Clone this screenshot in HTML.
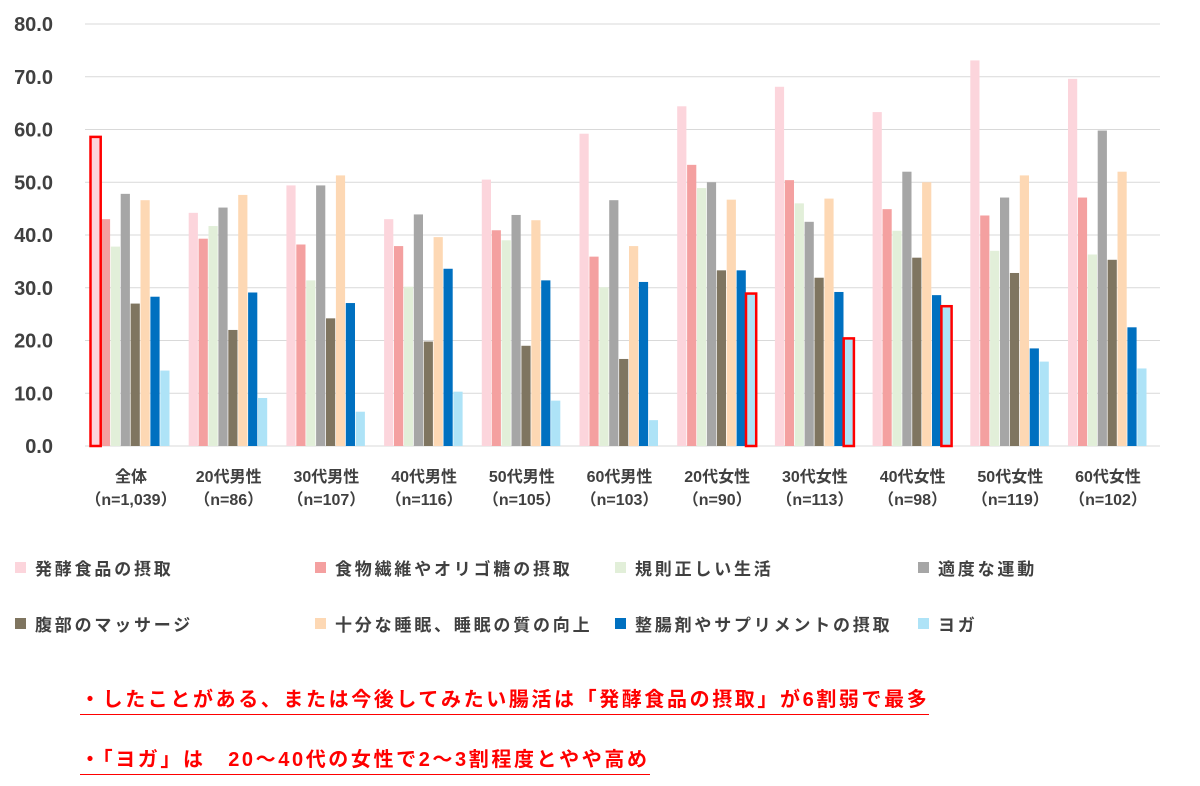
<!DOCTYPE html>
<html><head><meta charset="utf-8">
<style>
body{margin:0;width:1200px;height:786px;background:#fff;overflow:hidden;font-family:"Liberation Sans","Noto Sans CJK JP",sans-serif;}
#wrap{position:relative;width:1200px;height:786px;}
.leg{position:absolute;font-size:17px;font-weight:bold;color:#404040;display:flex;align-items:center;letter-spacing:2.8px;}
.leg i{display:inline-block;width:11px;height:11px;margin-right:9px;}
.note{position:absolute;left:80px;color:#ff0000;font-size:20px;font-weight:bold;border-bottom:1.5px solid #ff0000;padding-bottom:2px;letter-spacing:2.6px;}
</style></head><body>
<div id="wrap">
<svg id="chart" width="1200" height="530" style="position:absolute;left:0;top:0"></svg>
<div class="leg" style="left:15px;top:555px"><i style="background:#fcd5dc"></i>発酵食品の摂取</div>
<div class="leg" style="left:315px;top:555px"><i style="background:#f4a0a0"></i>食物繊維やオリゴ糖の摂取</div>
<div class="leg" style="left:615px;top:555px"><i style="background:#e2efd9"></i>規則正しい生活</div>
<div class="leg" style="left:918px;top:555px"><i style="background:#a6a6a6"></i>適度な運動</div>
<div class="leg" style="left:15px;top:611px"><i style="background:#7f7560"></i>腹部のマッサージ</div>
<div class="leg" style="left:315px;top:611px"><i style="background:#fdd8b4"></i>十分な睡眠、睡眠の質の向上</div>
<div class="leg" style="left:615px;top:611px"><i style="background:#0070c0"></i>整腸剤やサプリメントの摂取</div>
<div class="leg" style="left:918px;top:611px"><i style="background:#aee3f7"></i>ヨガ</div>
<div class="note" style="top:683px">・したことがある、または今後してみたい腸活は「発酵食品の摂取」が6割弱で最多</div>
<div class="note" style="top:743px">・「ヨガ」は　20～40代の女性で2～3割程度とやや高め</div>
</div>
<script>
const groups1=["全体","20代男性","30代男性","40代男性","50代男性","60代男性","20代女性","30代女性","40代女性","50代女性","60代女性"];
const groups2=["（n=1,039）","（n=86）","（n=107）","（n=116）","（n=105）","（n=103）","（n=90）","（n=113）","（n=98）","（n=119）","（n=102）"];
const fermented=[58.6,44.2,49.4,43.0,50.5,59.2,64.4,68.1,63.3,73.1,69.6];
const fiber=[43.0,39.3,38.2,37.9,40.9,35.9,53.3,50.4,44.9,43.7,47.1];
const regular=[37.8,41.7,31.4,30.2,39.0,30.1,48.9,46.0,40.8,37.0,36.3];
const exercise=[47.8,45.2,49.4,43.9,43.8,46.6,50.0,42.5,52.0,47.1,59.8];
const massage=[27.0,22.0,24.2,19.8,19.0,16.5,33.3,31.9,35.7,32.8,35.3];
const sleep=[46.6,47.6,51.3,39.6,42.8,37.9,46.7,46.9,50.0,51.3,52.0];
const supplement=[28.3,29.1,27.1,33.6,31.4,31.1,33.3,29.2,28.6,18.5,22.5];
const yoga=[14.3,9.1,6.5,10.3,8.6,4.9,28.9,20.4,26.5,16.0,14.7];
const yTicks=[0,10,20,30,40,50,60,70,80];
const seriesNames=["fermented","fiber","regular","exercise","massage","sleep","supplement","yoga"];
const series=[fermented,fiber,regular,exercise,massage,sleep,supplement,yoga];
const colors=["#fcd5dc","#f4a0a0","#e2efd9","#a6a6a6","#7f7560","#fdd8b4","#0070c0","#aee3f7"];
const highlights=[[0,0],[6,7],[7,7],[8,7]];
const svg=document.getElementById('chart');
const NS='http://www.w3.org/2000/svg';
const y=v=>446-v*5.275;
const gx=i=>85+i*97.7;
function mk(t,a){const e=document.createElementNS(NS,t);for(const k in a)e.setAttribute(k,a[k]);svg.appendChild(e);return e;}
yTicks.forEach(t=>{
 const l=mk('line',{x1:85,x2:1160,y1:y(t),y2:y(t),stroke:'#d9d9d9','stroke-width':1});
 
 
 const tx=mk('text',{x:53,y:y(t)+7,'text-anchor':'end','font-size':20,'font-weight':'bold',fill:'#404040'});
 tx.textContent=t.toFixed(1);
 
 
});
series.forEach((s,si)=>{
 s.forEach((v,gi)=>{
  const r=mk('rect',{x:gx(gi)+6+si*9.9,y:y(v),width:9.2,height:v*5.275,fill:colors[si]});
  
  
 });
});
highlights.forEach(([gi,si])=>{
 const v=series[si][gi];
 const r=mk('rect',{x:gx(gi)+6+si*9.9-0.5,y:y(v),width:10.2,height:v*5.275,fill:'none',stroke:'#ff0000','stroke-width':2.5});
 
 
});
groups1.forEach((g,i)=>{
 const cx=gx(i)+46;
 const t1=mk('text',{x:cx,y:482,'text-anchor':'middle','font-size':16,'font-weight':'bold',fill:'#404040'});
 t1.textContent=g;
 
 
 const t2=mk('text',{x:cx,y:505,'text-anchor':'middle','font-size':16,'font-weight':'bold',fill:'#404040'});
 t2.textContent=groups2[i];
 
 
});
</script>
</body></html>
